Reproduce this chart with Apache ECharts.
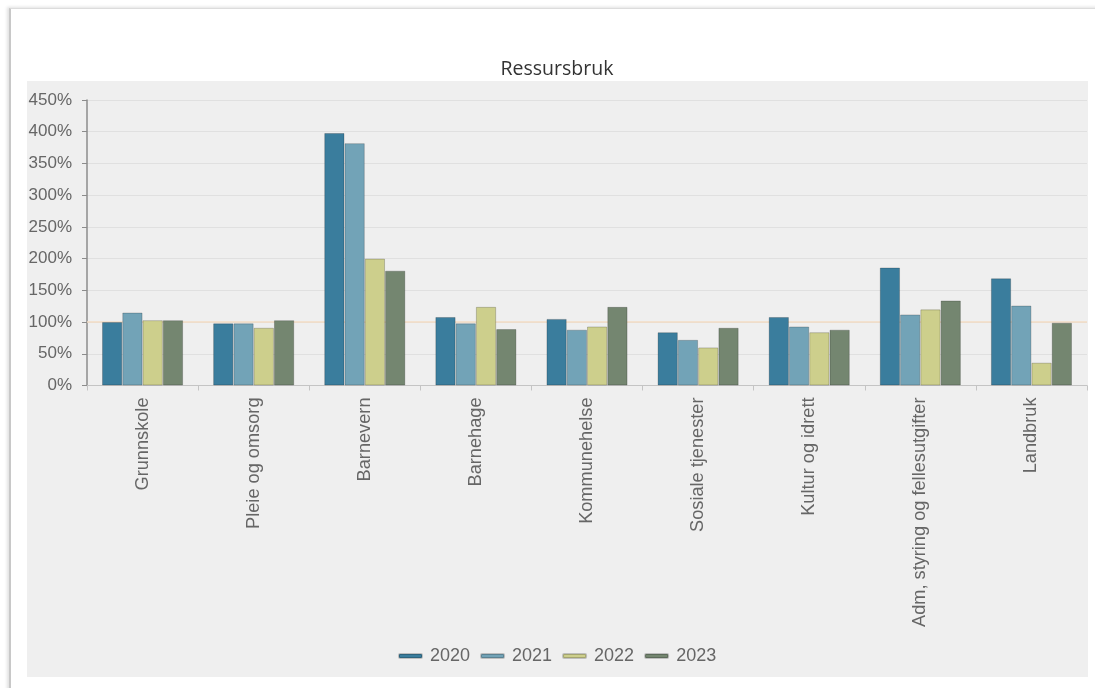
<!DOCTYPE html>
<html>
<head>
<meta charset="utf-8">
<script src="https://cdn.jsdelivr.net/npm/echarts@6/dist/echarts.min.js"></script>
<style>
  html, body { margin: 0; padding: 0; background: #ffffff; }
  #page { position: relative; width: 1095px; height: 688px; overflow: hidden; }
  #frame {
    position: absolute; left: 9px; top: 8px; width: 1100px; height: 700px;
    border-left: 2px solid #c8c8c8; border-top: 1px solid #dcdcdc;
    box-shadow: -2px -1px 3px rgba(0,0,0,0.12);
  }
  #panel { position: absolute; left: 27px; top: 81px; width: 1061px; height: 596px; background: #efefef; }
  #chart { position: absolute; left: 0; top: 0; width: 1095px; height: 688px; }
</style>
</head>
<body>
<div id="page">
  <div id="frame"></div>
  <div id="panel"></div>
  <div id="chart"></div>
</div>
<script>
// Categories (service areas) and yearly resource use, in percent
const categories = [
  'Grunnskole', 'Pleie og omsorg', 'Barnevern', 'Barnehage', 'Kommunehelse',
  'Sosiale tjenester', 'Kultur og idrett', 'Adm, styring og fellesutgifter', 'Landbruk'
];
const years = ['2020', '2021', '2022', '2023'];
const values2020 = [100, 98, 398, 108, 105, 84, 108, 186, 169];
const values2021 = [115, 98, 382, 98, 88, 72, 93, 112, 126];
const values2022 = [103, 91, 200, 124, 93, 60, 84, 120, 36];
const values2023 = [103, 103, 181, 89, 124, 91, 88, 134, 99];
const yTicks = { min: 0, max: 450, interval: 50 };
const referenceLevel = 100;

const colors = ['#3a7d9d', '#72a3b7', '#cdcf8c', '#748670'];
const seriesValues = [values2020, values2021, values2022, values2023];

const chart = echarts.init(document.getElementById('chart'));

const series = years.map((year, i) => {
  const s = {
    name: year,
    type: 'bar',
    data: seriesValues[i],
    barGap: '0%',
    barCategoryGap: '27%',
    itemStyle: { color: colors[i], borderColor: 'rgba(0,0,0,0.2)', borderWidth: 1 },
    emphasis: { disabled: true }
  };
  if (i === 0) {
    s.markLine = {
      silent: true,
      symbol: 'none',
      label: { show: false },
      lineStyle: { color: '#f3dcc4', width: 1.5, type: 'solid' },
      data: [{ yAxis: referenceLevel }],
      z: 1
    };
  }
  return s;
});

chart.setOption({
  animation: false,
  backgroundColor: 'transparent',
  color: colors,
  title: {
    text: 'Ressursbruk',
    left: 552, top: 54, textAlign: 'center',
    textStyle: { fontFamily: 'Open Sans', fontSize: 19.5, fontWeight: 'normal', color: '#333333' }
  },
  legend: {
    data: years,
    left: 393, top: 642,
    icon: 'roundRect',
    itemWidth: 23, itemHeight: 4,
    itemGap: 10,
    textStyle: { fontFamily: 'Liberation Sans', fontSize: 18, color: '#666666', padding: [0, 0, 0, 3] }
  },
  grid: { left: 87, right: 8, top: 100, bottom: 302.5, containLabel: false },
  xAxis: {
    type: 'category',
    data: categories,
    axisLine: { lineStyle: { color: '#c4c4c4', width: 1 } },
    axisTick: { show: true, alignWithLabel: false, length: 5, lineStyle: { color: '#c4c4c4' } },
    axisLabel: {
      rotate: 90, margin: 12, interval: 0,
      fontFamily: 'Liberation Sans', fontSize: 18.2, color: '#666666'
    },
    splitLine: { show: false }
  },
  yAxis: {
    type: 'value',
    min: yTicks.min, max: yTicks.max, interval: yTicks.interval,
    axisLine: { show: true, lineStyle: { color: '#8c8c8c', width: 1.5 } },
    axisTick: { show: true, length: 5, lineStyle: { color: '#8c8c8c' } },
    axisLabel: {
      formatter: '{value}%', margin: 15,
      fontFamily: 'Liberation Sans', fontSize: 17, color: '#666666'
    },
    splitLine: { show: true, lineStyle: { color: '#e0e0e0', width: 1 } }
  },
  series: series
});
</script>
</body>
</html>
